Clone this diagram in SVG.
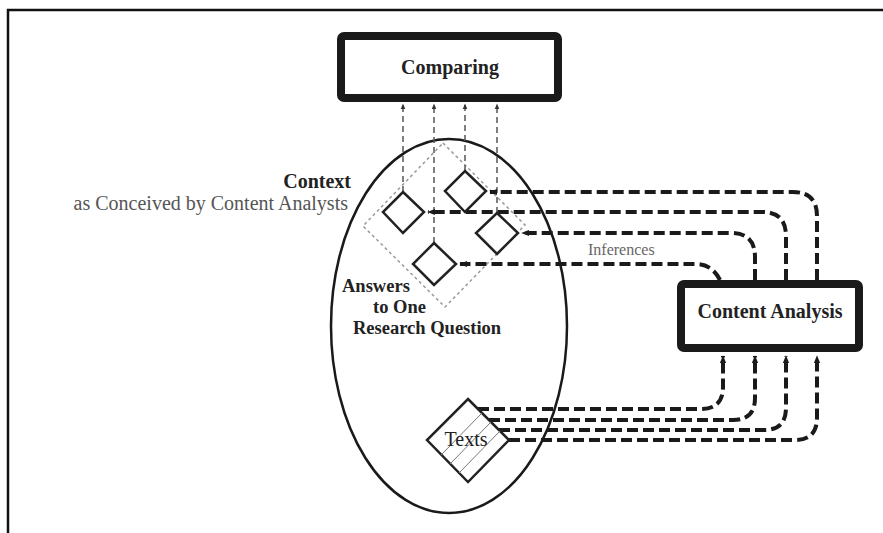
<svg xmlns="http://www.w3.org/2000/svg" width="883" height="533" viewBox="0 0 883 533">
<style>
.box{fill:#fff;stroke:#1a1a1a;stroke-width:8}
.lbl{font-family:"Liberation Serif","Times New Roman",serif;font-size:20px;font-weight:bold;fill:#222}
.ans{font-family:"Liberation Serif","Times New Roman",serif;font-size:18.5px;font-weight:bold;fill:#222}
.sub{font-family:"Liberation Serif","Times New Roman",serif;font-size:20px;fill:#555}
.inf{font-family:"Liberation Serif","Times New Roman",serif;font-size:16px;fill:#666}
.txt{font-family:"Liberation Serif","Times New Roman",serif;font-size:20px;fill:#222}
.dia{fill:#fff;stroke:#222;stroke-width:2.5}
.thin{fill:none;stroke:#555;stroke-width:1.5;stroke-dasharray:6 4}
.thick{fill:none;stroke:#1a1a1a;stroke-width:4;stroke-dasharray:11 5}
.dot{fill:none;stroke:#999;stroke-width:1.5;stroke-dasharray:3 3}
.hatch{stroke:#777;stroke-width:1}
</style>
<defs>
<marker id="ah" viewBox="0 0 10 10" refX="9" refY="5" markerWidth="6" markerHeight="6" orient="auto" markerUnits="userSpaceOnUse">
<path d="M0,1 L10,5 L0,9 z" fill="#333"/>
</marker>
<marker id="ahb" viewBox="0 0 10 10" refX="9" refY="5" markerWidth="8" markerHeight="8" orient="auto" markerUnits="userSpaceOnUse">
<path d="M0,1 L10,5 L0,9 z" fill="#1a1a1a"/>
</marker>
</defs>
<rect width="883" height="533" fill="#fff"/>
<g id="frame">
<path d="M8,533 L8,10 L883,10" fill="none" stroke="#111" stroke-width="2.5"/>
</g>
<g id="comparing">
<rect class="box" x="341" y="36" width="217" height="62" rx="3"/>
<text class="lbl" x="450" y="74" text-anchor="middle">Comparing</text>
</g>
<g id="context">
<ellipse cx="449" cy="326" rx="118" ry="187" fill="none" stroke="#1a1a1a" stroke-width="2.5"/>
<text class="lbl" x="351" y="188" text-anchor="end">Context</text>
<text class="sub" x="348" y="210" text-anchor="end">as Conceived by Content Analysts</text>
</g>
<g id="answers">
<path class="dot" d="M443,143 L525,225 L445,307 L363,226 Z"/>
<text class="ans" x="342" y="292">Answers</text>
<text class="ans" x="373" y="313">to One</text>
<text class="ans" x="353" y="334">Research Question</text>
</g>
<g id="connectors">
<path class="thin" d="M403,192 L403,104" marker-end="url(#ah)"/>
<path class="thin" d="M434,243 L434,104" marker-end="url(#ah)"/>
<path class="thin" d="M465,171 L465,104" marker-end="url(#ah)"/>
<path class="thin" d="M497,213 L497,104" marker-end="url(#ah)"/>
<path class="thick" d="M817,280 L817,216 Q817,192 793,192 L490,192" marker-end="url(#ahb)"/>
<path class="thick" d="M786,280 L786,236 Q786,212 762,212 L428,212" marker-end="url(#ahb)"/>
<path class="thick" d="M755,280 L755,257 Q755,233 731,233 L522,233" marker-end="url(#ahb)"/>
<path class="thick" d="M720,280 Q712,264 696,264 L460,264" marker-end="url(#ahb)"/>
<path class="thick" d="M478,409 L701,409 Q723,409 723,387 L723,356" marker-end="url(#ahb)"/>
<path class="thick" d="M489,420 L733,420 Q755,420 755,398 L755,356" marker-end="url(#ahb)"/>
<path class="thick" d="M499,430 L764,430 Q786,430 786,408 L786,356" marker-end="url(#ahb)"/>
<path class="thick" d="M509,440 L795,440 Q817,440 817,418 L817,356" marker-end="url(#ahb)"/>
<text class="inf" x="588" y="255">Inferences</text>
</g>
<g id="d1"><path class="dia" d="M403,192 L424,212 L403,233 L383,212 Z"/></g>
<g id="d2"><path class="dia" d="M465,171 L486,191 L465,212 L445,191 Z"/></g>
<g id="d3"><path class="dia" d="M497,213 L518,233 L497,254 L476,233 Z"/></g>
<g id="d4"><path class="dia" d="M434,243 L456,264 L434,285 L413,264 Z"/></g>
<g id="content-analysis">
<rect class="box" x="681" y="284" width="178" height="64" rx="3"/>
<text class="lbl" x="770" y="318" text-anchor="middle">Content Analysis</text>
</g>
<g id="texts">
<path class="dia" d="M468,399 L509,440 L468,482 L427,440 Z"/>
<line class="hatch" x1="441" y1="455" x2="482" y2="413"/>
<line class="hatch" x1="450" y1="464" x2="491" y2="422"/>
<line class="hatch" x1="459" y1="473" x2="500" y2="431"/>
<text class="txt" x="466" y="446" text-anchor="middle">Texts</text>
</g>
</svg>
